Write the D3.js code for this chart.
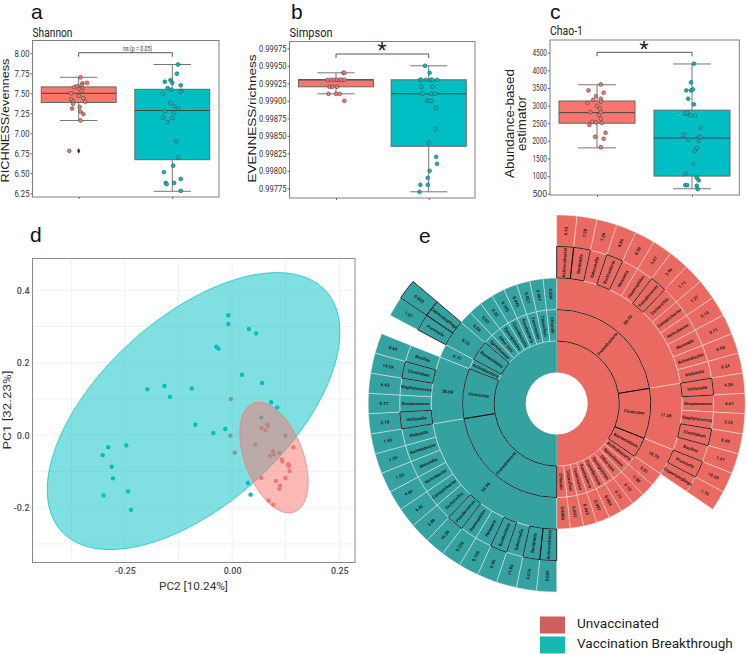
<!DOCTYPE html>
<html>
<head>
<meta charset="utf-8">
<style>
html, body { margin: 0; padding: 0; background: #fff; }
svg { display: block; }
text { font-family: Roboto, sans-serif; }
</style>
<script src="https://cdn.jsdelivr.net/npm/d3@7"></script>
</head>
<body>
<div id="graphicContainer"></div>
<script>
// colours
var red = "#F8766D", teal = "#00BFC4";
var sunRed = "#ea6a62", sunTeal = "#35a2a2";

// [q1, median, q3, whisker low, whisker high]
var shannonRedBox = [7.385, 7.50, 7.58, 7.16, 7.70];
var shannonTealBox = [6.67, 7.285, 7.55, 6.275, 7.86];
var simpsonRedBox = [0.9992, 0.9993, 0.9993, 0.9991, 0.9994];
var simpsonTealBox = [0.99835, 0.9991, 0.9993, 0.9977, 0.9995];
var chaoRedBox = [2500, 2800, 3130, 1800, 3590];
var chaoTealBox = [1000, 2080, 2870, 640, 4180];

var shannonTicks = [6.25, 6.5, 6.75, 7, 7.25, 7.5, 7.75, 8];
var simpsonTicks = [0.99775, 0.998, 0.99825, 0.9985, 0.99875, 0.999, 0.99925, 0.9995, 0.99975];
var chaoTicks = [500, 1000, 1500, 2000, 2500, 3000, 3500, 4000, 4500];

// jittered samples, value and horizontal offset in category units
var shannonRedVals = [7.70, 7.63, 7.625, 7.60, 7.575, 7.59, 7.56, 7.55, 7.53, 7.50, 7.47, 7.44, 7.425, 7.40, 7.395, 7.37, 7.31, 7.33, 7.27, 7.24, 7.16, 6.78];
var shannonRedJit = [.02, .09, .04, .03, -.05, -.02, .04, .01, .03, -.08, 0, .05, -.08, -.06, .07, -.06, -.07, .01, .02, .05, .02, -.10];
var shannonTealVals = [7.86, 7.745, 7.645, 7.665, 7.63, 7.60, 7.565, 7.545, 7.53, 7.52, 7.495, 7.38, 7.34, 7.31, 7.275, 7.26, 7.195, 7.19, 7.14, 6.90, 6.70, 6.595, 6.515, 6.43, 6.38, 6.38, 6.365, 6.28];
var shannonTealJit = [.06, .05, -.08, -.02, 0, .09, -.05, -.01, .10, .08, -.10, -.02, .02, .06, -.08, .02, -.10, 0, -.05, .04, .06, .01, -.09, .09, .02, -.07, -.06, .09];
var shannonOutlier = [6.78];

var simpsonRedVals = [.9994, .9994, .9993, .9993, .9993, .9993, .9993, .9993, .9993, .9992, .9992, .9992, .9991, .9991, .9991, .9990];
var simpsonRedJit = [.08, .09, -.09, -.05, -.02, .01, .04, .06, .09, -.07, -.04, .01, -.08, 0, .04, .09];
var simpsonTealVals = [.9995, .9994, .9993, .9993, .9993, .9993, .9993, .9993, .9992, .9992, .9991, .9991, .9991, .9990, .9990, .9990, .9989, .9986, .9984, .9982, .9981, .9980, .9979, .9978, .9978, .9977];
var simpsonTealJit = [-.04, .01, -.09, -.08, -.03, .02, .04, .09, -.08, .04, -.07, .03, .07, -.02, 0, .03, .08, .07, 0, .08, .09, .01, -.01, -.09, -.01, -.10];

var chaoRedVals = [3600, 3430, 3365, 3270, 3195, 3165, 3080, 3110, 2990, 2920, 2815, 2810, 2730, 2630, 2540, 2520, 2510, 2450, 2230, 2115, 2060, 1820];
var chaoRedJit = [.04, -.09, .07, -.01, .04, -.04, -.10, .04, 0, .03, -.07, .04, .02, .04, -.05, -.01, .05, -.08, .09, -.02, .07, .04];
var chaoTealVals = [4190, 3660, 3430, 3430, 3460, 3195, 3035, 2770, 2800, 2720, 2720, 2370, 2170, 2030, 2110, 2110, 1995, 1795, 1710, 1340, 1060, 955, 880, 745, 745, 725, 630];
var chaoTealJit = [.02, -.01, -.06, -.01, .01, -.04, .02, -.07, -.05, -.02, .03, .09, -.09, -.04, .07, .09, .07, .05, .03, .01, -.07, .05, .07, -.07, -.05, .05, .06];

// PCoA scatter
var pcTealX = [-.009, -.009, .039, .056, -.037, -.032, .023, .070, -.198, -.158, -.145, -.094, .091, .105, -.086, -.016, -.044, -.247, -.289, -.302, -.281, -.278, -.243, -.300, -.236, .037, .043, .068];
var pcTealY = [.331, .307, .293, .281, .244, .239, .167, .144, .127, .136, .106, .129, .091, .077, .029, .017, .006, -.028, -.033, -.055, -.087, -.119, -.155, -.166, -.206, -.132, -.164, .049];
var pcRedX = [-.003, .068, .082, .084, .078, -.004, .124, .054, .006, .095, .088, .097, .110, .143, .116, .117, .131, .132, .134, .124, .068, .102, .112, .110, .085, .096];
var pcRedY = [.100, .020, .029, .026, .014, -.001, -.001, -.026, -.048, -.044, -.057, -.053, -.049, -.033, -.067, -.072, -.080, -.085, -.099, -.118, -.118, -.126, -.139, -.148, -.180, -.192];
// ellipse: centre x, centre y, half range x, half range y, correlation
var pcTealEllipse = [-.090, .0667, .3414, .3822, .57];
var pcRedEllipse = [.0976, -.0616, .0797, .1527, -.44];
var pcXTicks = [-.25, 0, .25];
var pcYTicks = [-.2, 0, .2, .4];
var pcXMinor = [-.375, -.125, .125];
var pcYMinor = [-.3, -.1, .1, .3];

// sunburst: each genus or small phylum takes one leaf
var leafCount = 58;
var redPhyla = ["Proteobacteria", "Firmicutes", "Bacteroidetes", "Actinobacteria", "Spirochaetes", "Other taxa", "Synergistetes", "Cyanobacteria", "Fusobacteria", "Tenericutes", "Chloroflexi", "Chlorobi"];
var redPhylaLeaves = [13, 5, 2, 1, 1, 1, 1, 1, 1, 1, 1, 1];
var redPhylaVals = ["86.43", "17.38", "10.78", "5.01", "1.58", "0.13", "0.73", "0.004", "0.007", "0.443", "0.001", "0.0000"];
var tealPhyla = ["Proteobacteria", "Firmicutes", "Actinobacteria", "Bacteroidetes", "Spirochaetes", "Other taxa", "Synergistetes", "Cyanobacteria", "Fusobacteria", "Tenericutes", "Chloroflexi", "Chlorobi"];
var tealPhylaLeaves = [13, 5, 1, 2, 1, 1, 1, 1, 1, 1, 1, 1];
var tealPhylaVals = ["54.96", "38.68", "0.77", "8.16", "0.09", "0.07", "0.35", "0.105", "0.045", "0.027", "0.004", "0.004"];

var redGenus = ["Achromobacter", "Bordetella", "Salmonella", "Burkholderia", "Neisseria", "Haemophilus", "Pseudomonas", "Escherichia", "Campylobacter", "Helicobacter", "Moraxella", "Acinetobacter", "Klebsiella", "Veillonella", "Streptococcus", "Staphylococcus", "Clostridium", "Bacillus", "Prevotella", "Capnocytophaga"];
var redGenusVals = ["9.93", "7.28", "7.39", "8.86", "8.96", "3.67", "2.46", "1.71", "1.27", "0.13", "0.11", "0.90", "0.24", "4.30", "4.61", "3.23", "8.40", "1.41", "10.60", "1.79"];
// null leaves the actinobacteria slot empty on this side
var tealGenus = ["Achromobacter", "Bordetella", "Salmonella", "Burkholderia", "Neisseria", "Haemophilus", "Pseudomonas", "Escherichia", "Campylobacter", "Helicobacter", "Moraxella", "Acinetobacter", "Klebsiella", "Veillonella", "Streptococcus", "Staphylococcus", "Clostridium", "Bacillus", null, "Prevotella", "Capnocytophaga"];
var tealGenusVals = ["0.009", "0.014", "11.83", "0.95", "0.106", "0.226", "16.36", "3.89", "6.42", "4.66", "1.93", "1.24", "1.93", "2.18", "0.77", "6.43", "14.29", "8.64", null, "1.37", "0.032"];
var boxedGenus = ["Achromobacter", "Bordetella", "Burkholderia", "Pseudomonas", "Veillonella", "Clostridium", "Prevotella"];
var boxedPhyla = ["Proteobacteria", "Firmicutes", "Bacteroidetes"];

var legendNames = ["Unvaccinated", "Vaccination Breakthrough"];
var legendColors = ["#cf5f5f", "#14b9b1"];

var svg = d3.select("#graphicContainer").append("svg")
    .attr("width", 747)
    .attr("height", 654);

function letter(s, x, y) {
    svg.append("text").attr("x", x).attr("y", y).attr("font-size", 21).attr("fill", "#111")
        .style("font-family", "'Liberation Sans', Arial, sans-serif").text(s);
}

// squeezed text, the figure uses a condensed face
function squeeze(sel, w) {
    sel.attr("textLength", w).attr("lengthAdjust", "spacingAndGlyphs");
}

// one box panel with title, axis, two boxes, jittered points, bracket
function boxPanel(o) {
    var x = d3.scaleLinear().domain([1, 2]).range(o.centres);
    var y = d3.scaleLinear().domain(o.yDomain).range(o.yRange);
    var g = svg.append("g");
    var bw = o.boxUnits;

    g.append("rect").attr("x", o.frame[0]).attr("y", o.frame[1])
        .attr("width", o.frame[2] - o.frame[0]).attr("height", o.frame[3] - o.frame[1])
        .attr("fill", "#fff").attr("stroke", "#808080").attr("stroke-width", 1);

    var ya = d3.axisLeft(y).tickValues(o.ticks).tickFormat(d3.format(o.fmt)).tickSize(2);
    g.append("g").attr("transform", "translate(" + o.frame[0] + ",0)").call(ya)
        .call(function (a) { a.select(".domain").remove(); })
        .call(function (a) {
            a.selectAll("text").attr("font-size", 9).attr("fill", "#333").attr("x", -3)
                .style("font-family", "Roboto, sans-serif").call(squeeze, o.tickWidth);
            a.selectAll("line").attr("stroke", "#666");
        });
    var xa = d3.axisBottom(x).tickValues([1, 2]).tickFormat("").tickSize(2);
    g.append("g").attr("transform", "translate(0," + o.frame[3] + ")").call(xa)
        .call(function (a) {
            a.select(".domain").remove();
            a.selectAll("line").attr("stroke", "#666");
        });

    o.boxes.forEach(function (b, i) {
        var c = i + 1;
        var col = i == 0 ? red : teal;
        g.append("line").attr("x1", x(c)).attr("x2", x(c)).attr("y1", y(b[3])).attr("y2", y(b[4]))
            .attr("stroke", "#777").attr("stroke-width", 1);
        [b[3], b[4]].forEach(function (w) {
            g.append("line").attr("x1", x(c - o.capUnits)).attr("x2", x(c + o.capUnits))
                .attr("y1", y(w)).attr("y2", y(w)).attr("stroke", "#777").attr("stroke-width", 1);
        });
        g.append("rect").attr("x", x(c - bw)).attr("width", x(c + bw) - x(c - bw))
            .attr("y", y(b[2])).attr("height", y(b[0]) - y(b[2]))
            .attr("fill", col).attr("stroke", "#666").attr("stroke-width", 1);
        g.append("line").attr("x1", x(c - bw)).attr("x2", x(c + bw)).attr("y1", y(b[1])).attr("y2", y(b[1]))
            .attr("stroke", "#444").attr("stroke-width", 1);
    });

    o.points.forEach(function (p, i) {
        g.selectAll(null).data(p.vals).enter().append("circle")
            .attr("cx", function (d, k) { return x(i + 1 + p.jit[k]); })
            .attr("cy", function (d) { return y(d); })
            .attr("r", 1.9)
            .attr("fill", i == 0 ? red : teal)
            .attr("stroke", "#3c4a4a").attr("stroke-width", 0.6);
    });

    // significance bracket
    var by = o.bracketY, drop = 4;
    g.append("path").attr("fill", "none").attr("stroke", "#444").attr("stroke-width", 0.9)
        .attr("d", "M" + x(1) + "," + (by + drop) + "V" + by + "H" + x(2) + "V" + (by + drop));

    // titles
    svg.append("text").attr("x", o.frame[0]).attr("y", o.titleY)
        .attr("font-size", 12.4).attr("fill", "#222").text(o.title).call(squeeze, o.titleWidth);
    return { g: g, x: x, y: y };
}

letter("a", 31, 19);
var pa = boxPanel({
    frame: [32.5, 40.5, 219, 197],
    centres: [78.7, 172.3],
    yDomain: [6.25, 8],
    yRange: [193.3, 53.3],
    ticks: shannonTicks, fmt: ".2f", tickWidth: 15,
    boxUnits: 0.4, capUnits: 0.2,
    boxes: [shannonRedBox, shannonTealBox],
    points: [{ vals: shannonRedVals, jit: shannonRedJit }, { vals: shannonTealVals, jit: shannonTealJit }],
    bracketY: 52.7,
    title: "Shannon", titleY: 37, titleWidth: 40
});
pa.g.selectAll(null).data(shannonOutlier).enter().append("path")
    .attr("d", d3.symbol(d3.symbolDiamond, 9))
    .attr("transform", function (d) { return "translate(" + pa.x(1) + "," + pa.y(d) + ")"; })
    .attr("fill", "#333");
pa.g.append("text").attr("x", 137.7).attr("y", 50.7).attr("text-anchor", "middle")
    .attr("font-size", 7).attr("fill", "#333").text("ns (p = 0.05)").call(squeeze, 29);

letter("b", 291, 19);
var pb = boxPanel({
    frame: [289.5, 41.5, 475, 198],
    centres: [336, 428.7],
    yDomain: [0.99775, 0.99975],
    yRange: [188.3, 48.3],
    ticks: simpsonTicks, fmt: ".5f", tickWidth: 27.5,
    boxUnits: 0.405, capUnits: 0.2,
    boxes: [simpsonRedBox, simpsonTealBox],
    points: [{ vals: simpsonRedVals, jit: simpsonRedJit }, { vals: simpsonTealVals, jit: simpsonTealJit }],
    bracketY: 54,
    title: "Simpson", titleY: 37, titleWidth: 43
});
pb.g.append("text").attr("x", 382).attr("y", 57).attr("text-anchor", "middle")
    .attr("font-size", 21).attr("fill", "#222").text("*");

letter("c", 550, 19);
var pc = boxPanel({
    frame: [550, 40, 739.3, 195],
    centres: [597, 692],
    yDomain: [500, 4500],
    yRange: [193.7, 52.7],
    ticks: chaoTicks, fmt: "d", tickWidth: 14.5,
    boxUnits: 0.4, capUnits: 0.2,
    boxes: [chaoRedBox, chaoTealBox],
    points: [{ vals: chaoRedVals, jit: chaoRedJit }, { vals: chaoTealVals, jit: chaoTealJit }],
    bracketY: 52.3,
    title: "Chao-1", titleY: 35, titleWidth: 33
});
pc.g.append("text").attr("x", 644).attr("y", 55.5).attr("text-anchor", "middle")
    .attr("font-size", 21).attr("fill", "#222").text("*");

function yTitle(s, x, y, size, w) {
    svg.append("text").attr("transform", "translate(" + x + "," + y + ") rotate(-90)")
        .attr("text-anchor", "middle").attr("font-size", size).attr("fill", "#222")
        .style("font-family", "'Liberation Sans', Arial, sans-serif").text(s).call(squeeze, w);
}
yTitle("RICHNESS/evenness", 8.5, 120.5, 11.5, 124);
yTitle("EVENNESS/richness", 256, 118.5, 11.5, 128);
yTitle("Abundance-based", 513.5, 123.5, 12.8, 109);
yTitle("estimator", 526, 123.5, 12.8, 55);

// panel d
letter("d", 30, 242);
var fd = [32.5, 258.5, 355, 562.5];
var dx = d3.scaleLinear().domain([-.25, .25]).range([125, 339.3]);
var dy = d3.scaleLinear().domain([-.2, .4]).range([507.7, 290.3]);
var dg = svg.append("g");
dg.selectAll(null).data(pcXMinor.concat(pcXTicks)).enter().append("line")
    .attr("x1", dx).attr("x2", dx).attr("y1", fd[1]).attr("y2", fd[3])
    .attr("stroke", "#eeeeee").attr("stroke-width", 0.8);
dg.selectAll(null).data(pcYMinor.concat(pcYTicks)).enter().append("line")
    .attr("y1", dy).attr("y2", dy).attr("x1", fd[0]).attr("x2", fd[2])
    .attr("stroke", "#eeeeee").attr("stroke-width", 0.8);

dg.selectAll(null).data(pcRedX).enter().append("circle")
    .attr("cx", function (d) { return dx(d); })
    .attr("cy", function (d, i) { return dy(pcRedY[i]); })
    .attr("r", 2.2).attr("fill", red);
dg.selectAll(null).data(pcTealX).enter().append("circle")
    .attr("cx", function (d) { return dx(d); })
    .attr("cy", function (d, i) { return dy(pcTealY[i]); })
    .attr("r", 2.2).attr("fill", teal);

function ellipse(e, col) {
    var r2 = Math.sqrt(1 - e[4] * e[4]);
    var line = d3.line()
        .x(function (t) { return dx(e[0] + e[2] * Math.cos(t)); })
        .y(function (t) { return dy(e[1] + e[3] * (e[4] * Math.cos(t) + r2 * Math.sin(t))); })
        .curve(d3.curveLinearClosed);
    dg.append("path").attr("d", line(d3.range(0, 2 * Math.PI, 0.04)))
        .attr("fill", col).attr("fill-opacity", 0.5)
        .attr("stroke", col).attr("stroke-width", 0.7);
}
ellipse(pcTealEllipse, teal);
ellipse(pcRedEllipse, red);

dg.append("rect").attr("x", fd[0]).attr("y", fd[1]).attr("width", fd[2] - fd[0]).attr("height", fd[3] - fd[1])
    .attr("fill", "none").attr("stroke", "#8a8a8a").attr("stroke-width", 1);

function hyphen(f) { return function (d) { return f(d).replace("\u2212", "-"); }; }
dg.append("g").attr("transform", "translate(0," + fd[3] + ")")
    .call(d3.axisBottom(dx).tickValues(pcXTicks).tickFormat(hyphen(d3.format(".2f"))).tickSize(0).tickPadding(5))
    .call(function (a) {
        a.select(".domain").remove();
        a.selectAll("text").attr("font-size", 9).attr("font-weight", 500).attr("fill", "#4d4d4d")
            .style("font-family", "Roboto, sans-serif");
    });
dg.append("g").attr("transform", "translate(" + fd[0] + ",0)")
    .call(d3.axisLeft(dy).tickValues(pcYTicks).tickFormat(hyphen(d3.format(".1f"))).tickSize(0).tickPadding(3))
    .call(function (a) {
        a.select(".domain").remove();
        a.selectAll("text").attr("font-size", 9).attr("font-weight", 500).attr("fill", "#4d4d4d")
            .style("font-family", "Roboto, sans-serif");
    });
svg.append("text").attr("x", 193.5).attr("y", 589.5).attr("text-anchor", "middle")
    .attr("font-size", 11.5).attr("fill", "#333").text("PC2  [10.24%]").call(squeeze, 69);
svg.append("text").attr("transform", "translate(10.5,410) rotate(-90)").attr("text-anchor", "middle")
    .attr("font-size", 11.5).attr("fill", "#333").text("PC1  [32.23%]").call(squeeze, 79);

// panel e, sunburst
letter("e", 419, 243);
var cx = 556.7, cy = 403.5;
var sun = svg.append("g").attr("transform", "translate(" + cx + "," + cy + ")");
var ringR = d3.scaleLinear().domain([0, 5]).range([31, 188.5]);
var leafAngle = d3.scaleLinear().domain([0, leafCount]).range([0, 2 * Math.PI]);
var arc = d3.arc()
    .innerRadius(function (d) { return ringR(d.ring); })
    .outerRadius(function (d) { return ringR(d.ring + 1); })
    .startAngle(function (d) { return leafAngle(d.start); })
    .endAngle(function (d) { return leafAngle(d.end); });

function sectors(offset, phyla, leaves, phylaVals, genus, genusVals, col, boxExtra) {
    var cells = [];
    var at = offset;
    phyla.forEach(function (p, i) {
        cells.push({ ring: 1, start: at, end: at + leaves[i], label: p, black: boxedPhyla.indexOf(p) >= 0 });
        cells.push({ ring: 2, start: at, end: at + leaves[i], label: phylaVals[i] });
        at += leaves[i];
    });
    genus.forEach(function (g, i) {
        if (!g) return;
        var s = offset + i;
        cells.push({ ring: 3, start: s, end: s + 1, label: g, black: boxedGenus.indexOf(g) >= 0 || boxExtra.indexOf(g) >= 0 });
        cells.push({ ring: 4, start: s, end: s + 1, label: genusVals[i], black: boxExtra.indexOf(g) >= 0 });
    });

    // solid inner ring has no dividing lines
    sun.append("path").attr("d", arc({ ring: 0, start: offset, end: offset + leafCount / 2 })).attr("fill", col);
    sun.selectAll(null).data(cells).enter().append("path")
        .attr("d", arc).attr("fill", col)
        .attr("stroke", "#efe9e6").attr("stroke-opacity", 0.7).attr("stroke-width", 0.7);
    sun.selectAll(null).data(cells.filter(function (d) { return d.black; })).enter().append("path")
        .attr("d", arc).attr("fill", "none").attr("stroke", "#111").attr("stroke-width", 0.9);

    sun.selectAll(null).data(cells).enter().append("text")
        .attr("transform", function (d) {
            var a = (d.start + d.end) / 2 / leafCount * 360;
            var r = (ringR(d.ring) + ringR(d.ring + 1)) / 2;
            var flip = a < 180 ? 0 : 180;
            return "rotate(" + (a - 90) + ") translate(" + r + ",0) rotate(" + flip + ")";
        })
        .attr("text-anchor", "middle").attr("dy", "0.35em")
        .attr("font-size", 4.3)
        .attr("font-weight", 700).attr("fill", "#1c1c1c")
        .text(function (d) { return d.label; });
}
sectors(0, redPhyla, redPhylaLeaves, redPhylaVals, redGenus, redGenusVals, sunRed, []);
sectors(leafCount / 2, tealPhyla, tealPhylaLeaves, tealPhylaVals, tealGenus, tealGenusVals, sunTeal, ["Capnocytophaga"]);

// legend
var leg = svg.append("g");
var legY = d3.scalePoint().domain(legendNames).range([625, 645]);
leg.selectAll(null).data(legendNames).enter().append("rect")
    .attr("x", 540).attr("width", 25).attr("height", 17)
    .attr("y", function (d) { return legY(d) - 8.5; })
    .attr("fill", function (d, i) { return legendColors[i]; });
leg.selectAll(null).data(legendNames).enter().append("text")
    .attr("x", 577).attr("y", function (d) { return legY(d) - 1.5; }).attr("dy", "0.33em")
    .attr("font-size", 13.6).attr("fill", "#222").text(function (d) { return d; });
</script>
</body>
</html>
